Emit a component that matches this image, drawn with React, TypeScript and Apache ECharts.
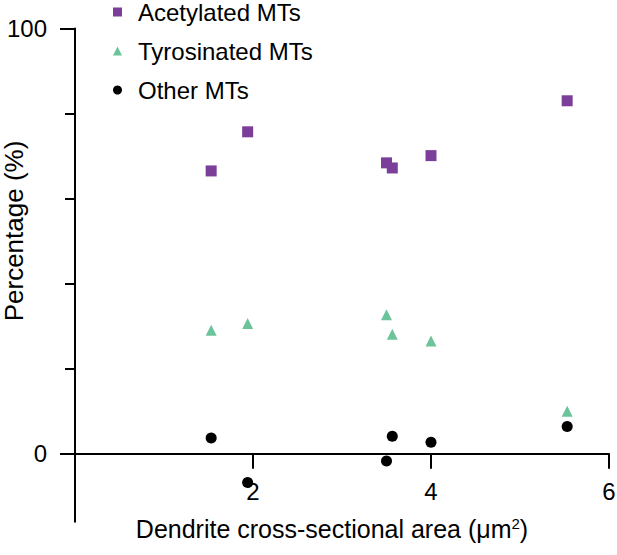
import React, { useEffect, useRef } from "react";
import * as echarts from "echarts";

const xValues = [1.53, 1.94, 3.5, 3.565, 4.0, 5.53];
const acetylated = [66.5, 75.7, 68.4, 67.2, 70.1, 83.0];
const tyrosinated = [29.0, 30.6, 32.7, 28.1, 26.5, 10.0];
const other = [3.7, -6.8, -1.7, 4.1, 2.7, 6.4];

const seriesNames = ["Acetylated MTs", "Tyrosinated MTs", "Other MTs"];
const xTicks = [2, 4, 6];
const yMajorTicks = [0, 100];
const yMinorTicks = [0, 20, 40, 60, 80, 100];
const xTitle = "{a|Dendrite cross-sectional area (μm}{s|2}{a|)}";
const yTitle = "Percentage (%)";

const FONT = "'Liberation Sans', Arial, Helvetica, sans-serif";

export default function App() {
  const ref = useRef<HTMLDivElement>(null);
  useEffect(() => {
    document.body.style.margin = "0";
    if (!ref.current) return;
    const chart = echarts.init(ref.current, null, { renderer: "svg" });
    const pairs = (ys: number[]) => xValues.map((x, i) => [x, ys[i]]);
    const axisColor = "#000";
    const option: any = {
      animation: false,
      textStyle: { fontFamily: FONT },
      grid: { left: 75, right: 8, top: 28.5, bottom: 33.3, containLabel: false, outerBoundsMode: "none" },
      legend: {
        orient: "vertical",
        left: 113,
        top: 0,
        padding: 0,
        itemWidth: 9,
        itemHeight: 9,
        itemGap: 15,
        textStyle: { fontSize: 24, color: "#000", fontFamily: FONT, padding: [0, 0, 0, 11], lineHeight: 24 },
        data: seriesNames,
      },
      graphic: [
        {
          type: "text",
          x: 14,
          y: 231,
          rotation: Math.PI / 2,
          style: {
            text: yTitle,
            x: 0,
            y: 0,
            align: "center",
            verticalAlign: "middle",
            fontSize: 26,
            fontFamily: FONT,
            fill: "#000",
          },
        },
        {
          type: "text",
          x: 332,
          y: 529,
          style: {
            text: xTitle,
            x: 0,
            y: 0,
            align: "center",
            verticalAlign: "middle",
            fontSize: 25,
            fontFamily: FONT,
            fill: "#000",
            rich: {
              a: { fontSize: 25, fill: "#000", fontFamily: FONT },
              s: { fontSize: 15, fill: "#000", fontFamily: FONT, padding: [0, 0, 12, 0] },
            },
          },
        },
      ],
      xAxis: {
        type: "value",
        min: 0,
        max: 6,
        interval: 2,
        axisLine: { onZero: true, lineStyle: { color: axisColor, width: 2 } },
        axisTick: { length: 15, lineStyle: { color: axisColor, width: 2 }, customValues: xTicks },
        axisLabel: { customValues: xTicks, margin: -42, fontSize: 24, color: "#000", fontFamily: FONT },
        splitLine: { show: false },
      },
      yAxis: [
        {
          type: "value",
          min: -16,
          max: 100,
          axisLine: { show: true, onZero: false, lineStyle: { color: axisColor, width: 2 } },
          axisTick: { show: true, length: 10, lineStyle: { color: axisColor, width: 2 }, customValues: yMinorTicks },
          axisLabel: { show: false },
          splitLine: { show: false },
        },
        {
          type: "value",
          min: -16,
          max: 100,
          position: "left",
          offset: 0,
          axisLine: { show: false, onZero: false },
          axisTick: { show: true, length: 15, lineStyle: { color: axisColor, width: 2 }, customValues: yMajorTicks },
          axisLabel: { show: true, customValues: yMajorTicks, margin: 28, fontSize: 24, color: "#000", fontFamily: FONT },
          splitLine: { show: false },
        },
      ],
      series: [
        {
          name: seriesNames[0],
          type: "scatter",
          symbol: "rect",
          symbolSize: 11,
          itemStyle: { color: "#7B3F99", opacity: 1 },
          data: pairs(acetylated),
        },
        {
          name: seriesNames[1],
          type: "scatter",
          symbol: "triangle",
          symbolSize: 11,
          itemStyle: { color: "#6CC49A", opacity: 1 },
          data: pairs(tyrosinated),
        },
        {
          name: seriesNames[2],
          type: "scatter",
          symbol: "circle",
          symbolSize: 11,
          itemStyle: { color: "#000000", opacity: 1 },
          data: pairs(other),
        },
      ],
    };
    chart.setOption(option);
    return () => chart.dispose();
  }, []);
  return <div ref={ref} style={{ width: 617, height: 555 }} />;
}
